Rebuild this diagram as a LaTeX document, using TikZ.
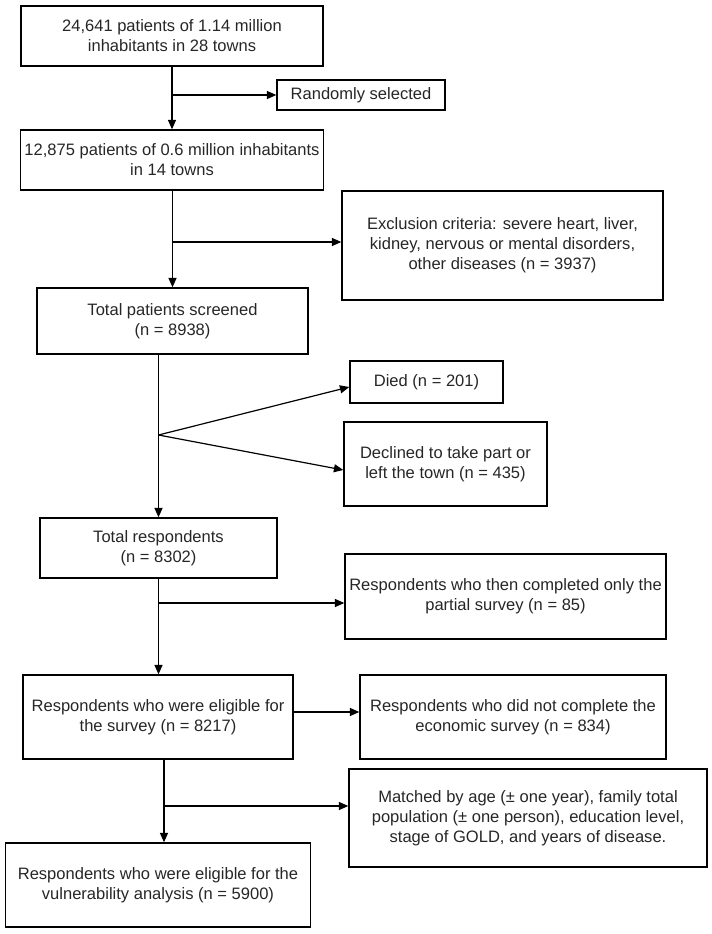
\documentclass[tikz,border=0pt]{standalone}
\usepackage{fontspec}
\setmainfont{Liberation Sans}
\usetikzlibrary{arrows.meta}
\begin{document}
\begin{tikzpicture}[x=0.75pt,y=-0.75pt,
  box/.style 2 args={draw=black, line width=1.1pt, inner sep=0pt, align=center,
    minimum width=0.75pt*#1, minimum height=0.75pt*#2,
    font=\fontsize{12.4}{15}\selectfont, text=black!85},
  conn/.style={line width=0.9pt, -{Triangle[length=7pt,width=6pt]}},
  plainline/.style={line width=0.9pt}]
\useasboundingbox (0,0) rectangle (712,934);
\node[box={302}{60}] (b1) at (172,36) {24,641 patients of 1.14 million\\inhabitants in 28 towns};
\node[box={168}{30}] (r) at (361,95) {Randomly selected};
\node[box={303}{60}] (b2) at (172,160) {12,875 patients of 0.6 million inhabitants\\in 14 towns};
\node[box={321}{109}] (e) at (502.5,245.5) {Exclusion criteria: severe heart, liver,\\kidney, nervous or mental disorders,\\other diseases (n = 3937)};
\node[box={271}{66}] (b3) at (172.5,321) {Total patients screened\\(n = 8938)};
\node[box={153}{42}] (d) at (426.5,382) {Died (n = 201)};
\node[box={203}{84}] (l) at (445.5,464) {Declined to take part or\\left the town (n = 435)};
\node[box={237}{60}] (b4) at (158.5,548) {Total respondents\\(n = 8302)};
\node[box={321}{85}] (p) at (505.5,596.5) {Respondents who then completed only the\\partial survey (n = 85)};
\node[box={270}{84}] (b5) at (158,717) {Respondents who were eligible for\\the survey (n = 8217)};
\node[box={306}{84}] (n) at (513,717) {Respondents who did not complete the\\economic survey (n = 834)};
\node[box={358}{98}] (m) at (528,818) {Matched by age (± one year), family total\\population (± one person), education level,\\stage of GOLD, and years of disease.};
\node[box={305}{84}] (f) at (158,885) {Respondents who were eligible for the\\vulnerability analysis (n = 5900)};
% b1 -> b2
\draw[conn] (b1.south) -- (b1.south |- b2.north);
\draw[conn] (b1.south |- r.west) -- (r.west);
% b2 -> b3
\coordinate (j2) at (172.5,242);
\draw[conn] (b2.south -| j2) -- (b3.north -| j2);
\draw[conn] (j2) -- (j2 -| e.west);
% b3 -> b4
\coordinate (s3) at (158.5,435);
\draw[conn] (b3.south -| s3) -- (b4.north -| s3);
\draw[conn] (s3) -- ([yshift=-3.75pt]d.west);
\draw[conn] (s3) -- ([yshift=-4.5pt]l.west);
% b4 -> b5
\coordinate (j4) at (158.5,603);
\draw[conn] (b4.south -| j4) -- (b5.north -| j4);
\draw[conn] (j4) -- (j4 -| p.west);
% b5 -> n
\coordinate (k5) at ([yshift=3.75pt]b5.east);
\draw[conn] (k5) -- (k5 -| n.west);
% b5 -> f
\coordinate (j5) at (164,806);
\draw[conn] (b5.south -| j5) -- (f.north -| j5);
\draw[conn] (j5) -- (j5 -| m.west);
\end{tikzpicture}
\end{document}
